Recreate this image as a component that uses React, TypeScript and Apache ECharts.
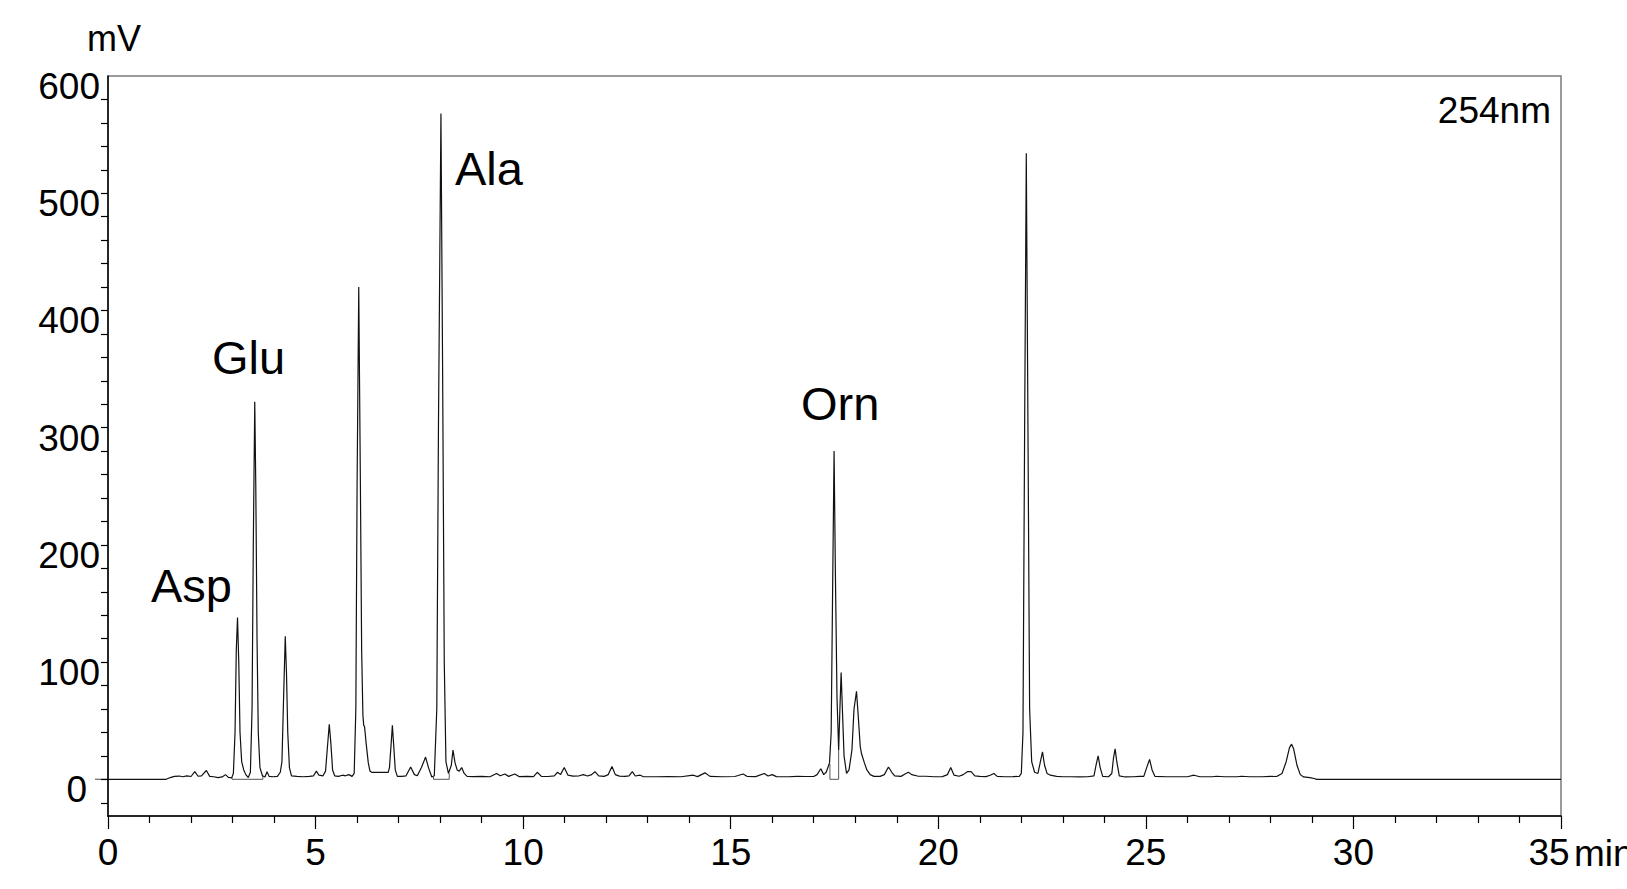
import React, { useEffect, useRef } from "react";
import * as echarts from "echarts";

// Retention time (min), signal (mV)
const earlyBaseline: [number, number][] = [
  [0, 0], [1.4, 0], [1.5, 1.5], [1.6, 2.5], [1.72, 2.8], [1.8, 2.2], [1.9, 3], [2.0, 2.4],
  [2.09, 6.5], [2.17, 2.6], [2.25, 3.0], [2.37, 7.5], [2.45, 2.5], [2.55, 2.2], [2.65, 1.5],
  [2.75, 2.0], [2.83, 4.0], [2.9, 1.6], [2.98, 1.2],
];
const aspGluRegion: [number, number][] = [
  [3.02, 5], [3.06, 40], [3.09, 110], [3.12, 138], [3.15, 100], [3.18, 40], [3.22, 15],
  [3.27, 8], [3.32, 4], [3.38, 1.5],
  [3.43, 6], [3.47, 60], [3.5, 200], [3.535, 322], [3.56, 250], [3.59, 120], [3.62, 40],
  [3.66, 10], [3.72, 3], [3.78, 2], [3.83, 6.5], [3.88, 2.5], [3.98, 2.2], [4.08, 2.5], [4.15, 6],
  [4.19, 15], [4.23, 70], [4.27, 122], [4.3, 90], [4.33, 40], [4.37, 10], [4.42, 3],
  [4.55, 2.5], [4.7, 2.2], [4.85, 2.5], [4.95, 3], [5.02, 7], [5.08, 3.5], [5.18, 3], [5.24, 7],
  [5.28, 25], [5.33, 47], [5.37, 30], [5.41, 8], [5.46, 3],
  [5.55, 2.5], [5.65, 3.5], [5.72, 3], [5.8, 4], [5.88, 2.5], [5.93, 5],
];
const midRegion: [number, number][] = [
  [5.97, 60], [6.0, 250], [6.04, 420], [6.08, 250], [6.11, 110], [6.14, 55], [6.16, 46],
  [6.18, 45], [6.22, 30], [6.27, 14], [6.31, 7], [6.35, 6], [6.75, 6], [6.78, 10],
  [6.82, 30], [6.85, 46], [6.88, 30], [6.92, 8], [6.97, 2.5],
  [7.08, 2.5], [7.18, 3], [7.29, 10.5], [7.38, 4], [7.45, 3], [7.55, 10], [7.65, 19], [7.72, 10],
  [7.8, 2], [7.86, 3], [7.92, 60], [7.96, 300], [8.02, 568], [8.06, 350], [8.1, 100], [8.14, 15],
  [8.2, 5], [8.27, 12], [8.31, 25], [8.36, 14], [8.41, 8], [8.46, 7], [8.52, 10], [8.58, 5],
  [8.65, 2.5],
];
const quietRegion: [number, number][] = [
  [8.8, 2.3], [9.0, 2.5], [9.2, 2.2], [9.36, 5], [9.45, 3], [9.56, 4.5], [9.65, 2.5], [9.8, 4.5],
  [9.9, 2.3], [10.1, 2.5], [10.25, 2.3], [10.34, 6], [10.44, 2.5], [10.6, 2.4], [10.75, 3],
  [10.83, 6], [10.9, 4], [10.99, 10], [11.08, 3.5], [11.2, 2.7], [11.35, 3], [11.45, 4],
  [11.55, 2.8], [11.65, 4], [11.73, 6.5], [11.82, 3], [11.95, 2.5], [12.05, 4], [12.14, 11],
  [12.22, 4], [12.32, 2.7], [12.45, 2.5], [12.55, 3], [12.63, 6.5], [12.7, 2.8], [12.82, 3.5],
  [12.9, 2.2], [13.2, 2.2], [13.5, 2.4], [13.8, 2.2], [14.1, 3.5], [14.2, 2.3], [14.38, 5.5],
  [14.5, 2.5], [14.8, 2.2], [15.1, 2.4], [15.3, 4.5], [15.4, 2.4], [15.6, 2.3], [15.81, 5],
  [15.9, 2.8], [16.0, 4], [16.1, 2.3], [16.4, 2.2], [16.6, 2.5], [16.8, 2.4], [17.0, 2.4],
  [17.08, 4], [17.17, 9], [17.24, 4], [17.3, 6], [17.38, 14],
];
const ornRegion: [number, number][] = [
  [17.42, 40], [17.46, 180], [17.49, 280], [17.52, 180], [17.56, 70], [17.6, 25], [17.63, 60],
  [17.66, 91], [17.69, 60], [17.73, 20], [17.79, 5], [17.85, 8], [17.92, 25], [17.97, 60],
  [18.03, 75], [18.07, 55], [18.12, 28], [18.15, 22], [18.22, 14], [18.28, 8], [18.36, 4],
  [18.45, 2.5], [18.6, 2.5], [18.7, 4], [18.8, 10.5], [18.88, 6], [18.95, 3], [19.1, 2.5],
  [19.2, 4.5], [19.28, 6], [19.36, 4], [19.5, 2.8], [19.7, 2.6], [19.9, 2.2], [20.1, 2.3],
  [20.22, 4], [20.3, 10], [20.38, 3.5], [20.5, 2.6], [20.6, 4], [20.7, 6.5], [20.79, 6.5],
  [20.88, 3], [21.0, 2.5], [21.15, 2.3], [21.25, 3.5], [21.34, 5], [21.42, 2.5], [21.6, 2.2],
  [21.8, 2.3], [21.95, 2.5],
];
const lateRegion: [number, number][] = [
  [22.0, 5], [22.04, 40], [22.08, 300], [22.12, 534], [22.16, 300], [22.2, 60], [22.25, 15],
  [22.32, 6], [22.4, 5], [22.46, 15], [22.51, 23.5], [22.56, 12], [22.62, 5], [22.7, 3.5],
  [22.85, 2.5], [23.0, 2.2], [23.2, 2.2], [23.4, 2.0], [23.6, 2.2], [23.75, 3], [23.8, 12],
  [23.85, 20], [23.9, 10], [23.96, 2.5], [24.1, 2.2], [24.18, 5], [24.22, 18], [24.26, 26],
  [24.3, 15], [24.36, 3], [24.5, 2], [24.7, 2.2], [24.85, 2.5], [24.95, 2.5], [25.02, 10],
  [25.09, 17], [25.15, 8], [25.22, 2.5], [25.5, 2.2], [25.8, 2.2], [26.0, 2.2], [26.16, 3.5],
  [26.3, 2.2], [26.6, 2.2], [26.7, 2.6], [26.9, 2.2], [27.2, 2.2], [27.3, 2.6], [27.5, 2.2],
  [27.8, 2.2], [28.0, 2.5], [28.15, 2.4], [28.28, 5], [28.38, 15], [28.46, 27], [28.51, 30],
  [28.56, 26], [28.64, 12], [28.72, 4], [28.8, 2], [28.95, 1.5], [29.08, 0.5], [29.1, 0], [35, 0],
];

// Integration baseline marks: [start time, end time, trace level at start, trace level at end]
const integrationMarks: [number, number, number, number][] = [
  [2.99, 3.73, 1.2, 3],
  [7.84, 8.22, 2, 5],
  [17.39, 17.6, 13, 25],
];

const xTicks = [0, 5, 10, 15, 20, 25, 30, 35];
const yLabelValues = [0, 100, 200, 300, 400, 500, 600];
const yTickValues = [-20, 0, 20, 40, 60, 80, 100, 120, 140, 160, 180, 200, 220, 240, 260, 280, 300, 320, 340, 360, 380, 400, 420, 440, 460, 480, 500, 520, 540, 560, 580];

const peakNames = ["Asp", "Glu", "Ala", "Orn"];

const FONT = "'Liberation Sans', Arial, Helvetica, sans-serif";

export default function App() {
  const ref = useRef<HTMLDivElement>(null);
  useEffect(() => {
    if (!ref.current) return;
    const chart = echarts.init(ref.current, undefined, { renderer: "svg" });
    const trace = [
      ...earlyBaseline, ...aspGluRegion, ...midRegion, ...quietRegion, ...ornRegion, ...lateRegion,
    ];
    const integrationSeries = integrationMarks.map((m, i) => ({
      type: "line",
      name: "int" + i,
      data: [[m[0], m[2]], [m[0], 0], [m[1], 0], [m[1], m[3]]],
      showSymbol: false,
      symbol: "none",
      silent: true,
      lineStyle: { color: "#555", width: 1 },
      z: 2,
    }));
    const labelPos: Record<string, [number, number]> = {
      Asp: [151, 585],
      Glu: [212, 357],
      Ala: [455, 168],
      Orn: [801, 403],
    };
    const AX = 37;
    const option: any = {
      animation: false,
      backgroundColor: "#fff",
      grid: {
        left: 108,
        right: 66,
        top: 76,
        bottom: 73,
        show: true,
        borderColor: "#7a7a7a",
        borderWidth: 1.5,
        backgroundColor: "transparent",
      },
      xAxis: {
        type: "value",
        min: 0,
        max: 35,
        interval: 5,
        axisLine: { show: true, onZero: false, lineStyle: { color: "#000", width: 1.5 } },
        axisTick: { show: true, length: 13, lineStyle: { color: "#000", width: 1.2 } },
        minorTick: { show: true, splitNumber: 5, length: 7, lineStyle: { color: "#000", width: 1.2 } },
        splitLine: { show: false },
        axisLabel: {
          fontSize: AX,
          fontFamily: FONT,
          color: "#000",
          margin: 18,
          formatter: (v: number) => (v === 35 ? "{s|35}" : String(v)),
          rich: {
            s: { fontSize: AX, fontFamily: FONT, color: "#000", padding: [0, 24, 0, 0] },
          },
          customValues: xTicks,
        },
      },
      yAxis: {
        type: "value",
        min: -31.3,
        max: 600,
        axisLine: { show: true, onZero: false, lineStyle: { color: "#000", width: 1.5 } },
        axisTick: { show: true, length: 7, customValues: yTickValues, lineStyle: { color: "#000", width: 1.2 } },
        splitLine: { show: false },
        axisLabel: {
          customValues: yLabelValues,
          fontSize: AX,
          fontFamily: FONT,
          color: "#000",
          margin: 8,
          padding: [21, 0, 0, 0],
          formatter: (v: number) => (v === 0 ? "{z|0}" : String(v)),
          rich: {
            z: { fontSize: AX, fontFamily: FONT, color: "#000", padding: [0, 13, 0, 0] },
          },
        },
      },
      series: [
        {
          type: "line",
          name: "254nm",
          data: trace,
          showSymbol: false,
          symbol: "none",
          smooth: false,
          lineStyle: { color: "#111", width: 1.2 },
          z: 3,
        },
        ...integrationSeries,
      ],
      graphic: [
        {
          type: "text",
          x: 87,
          y: 38,
          style: { text: "mV", fontSize: 36, fontFamily: FONT, fill: "#000", align: "left", verticalAlign: "middle" },
        },
        {
          type: "text",
          x: 1551,
          y: 110,
          style: { text: "254nm", fontSize: 37, fontFamily: FONT, fill: "#000", align: "right", verticalAlign: "middle" },
        },
        {
          type: "text",
          x: 1574,
          y: 853,
          style: { text: "min", fontSize: AX, fontFamily: FONT, fill: "#000", align: "left", verticalAlign: "middle" },
        },
        {
          type: "line",
          shape: { x1: 95, y1: 779.3, x2: 108, y2: 779.3 },
          style: { stroke: "#666", lineWidth: 1.2 },
        },
        ...peakNames.map((n) => ({
          type: "text",
          x: labelPos[n][0],
          y: labelPos[n][1],
          style: { text: n, fontSize: 47, fontFamily: FONT, fill: "#000", align: "left", verticalAlign: "middle" },
        })),
      ],
    };
    chart.setOption(option);
    return () => chart.dispose();
  }, []);
  return (
    <div
      ref={ref}
      style={{ position: "fixed", left: 0, top: 0, width: 1627, height: 889, background: "#fff" }}
    />
  );
}
